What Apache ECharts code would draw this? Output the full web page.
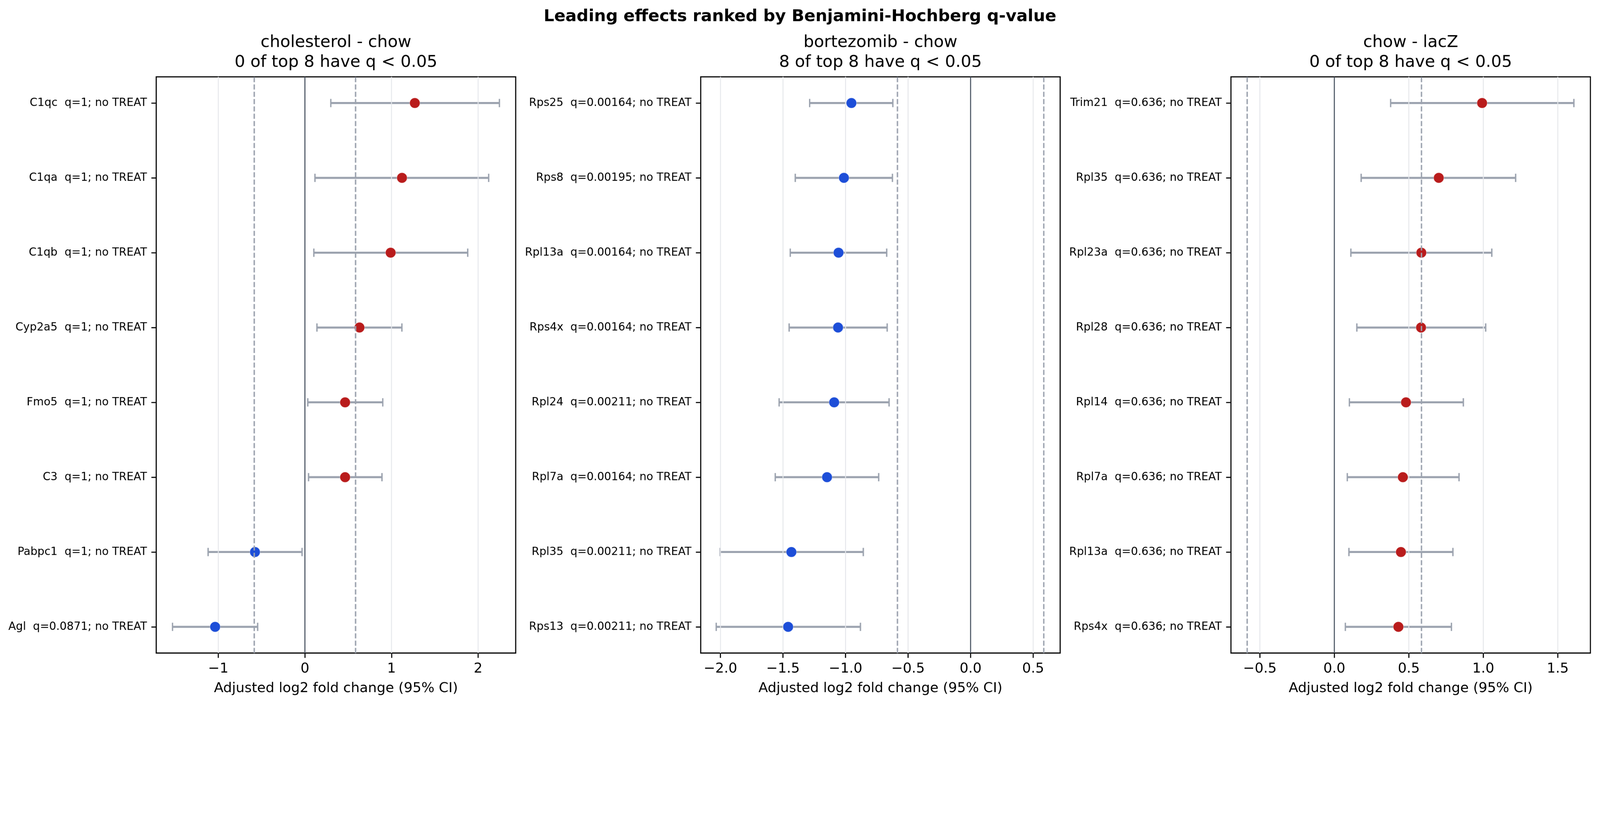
<!DOCTYPE html>
<html>
<head>
<meta charset="utf-8">
<script src="https://cdn.jsdelivr.net/npm/echarts@6/dist/echarts.min.js"></script>
<style>
html,body{margin:0;padding:0;background:#ffffff;overflow:hidden;}
#wrap{position:relative;overflow:hidden;background:#ffffff;}
#chart{position:absolute;left:0;top:0;width:4834px;height:2134px;transform-origin:0 0;}
</style>
</head>
<body>
<div id="wrap"><div id="chart"></div></div>
<script>
// ---------------- data ----------------
const suptitle = 'Leading effects ranked by Benjamini-Hochberg q-value';
const panelTitles = ['cholesterol - chow', 'bortezomib - chow', 'chow - lacZ'];
const panelSubtitles = ['0 of top 8 have q < 0.05', '8 of top 8 have q < 0.05', '0 of top 8 have q < 0.05'];
const xAxisTitle = 'Adjusted log2 fold change (95% CI)';

const labels1 = ['C1qc  q=1; no TREAT', 'C1qa  q=1; no TREAT', 'C1qb  q=1; no TREAT', 'Cyp2a5  q=1; no TREAT',
                 'Fmo5  q=1; no TREAT', 'C3  q=1; no TREAT', 'Pabpc1  q=1; no TREAT', 'Agl  q=0.0871; no TREAT'];
const est1 = [1.269, 1.121, 0.990, 0.630, 0.464, 0.464, -0.577, -1.037];
const lo1  = [0.299, 0.116, 0.103, 0.139, 0.033, 0.042, -1.118, -1.529];
const hi1  = [2.246, 2.122, 1.880, 1.120, 0.899, 0.890, -0.033, -0.546];

const labels2 = ['Rps25  q=0.00164; no TREAT', 'Rps8  q=0.00195; no TREAT', 'Rpl13a  q=0.00164; no TREAT', 'Rps4x  q=0.00164; no TREAT',
                 'Rpl24  q=0.00211; no TREAT', 'Rpl7a  q=0.00164; no TREAT', 'Rpl35  q=0.00211; no TREAT', 'Rps13  q=0.00211; no TREAT'];
const est2 = [-0.953, -1.013, -1.056, -1.060, -1.091, -1.148, -1.433, -1.459];
const lo2  = [-1.287, -1.402, -1.442, -1.451, -1.531, -1.562, -2.002, -2.034];
const hi2  = [-0.622, -0.625, -0.671, -0.667, -0.652, -0.735, -0.858, -0.881];

const labels3 = ['Trim21  q=0.636; no TREAT', 'Rpl35  q=0.636; no TREAT', 'Rpl23a  q=0.636; no TREAT', 'Rpl28  q=0.636; no TREAT',
                 'Rpl14  q=0.636; no TREAT', 'Rpl7a  q=0.636; no TREAT', 'Rpl13a  q=0.636; no TREAT', 'Rps4x  q=0.636; no TREAT'];
const est3 = [0.992, 0.701, 0.584, 0.582, 0.481, 0.460, 0.447, 0.430];
const lo3  = [0.378, 0.180, 0.111, 0.151, 0.101, 0.087, 0.098, 0.074];
const hi3  = [1.608, 1.217, 1.057, 1.016, 0.866, 0.837, 0.796, 0.786];

const xTicks1 = [-1, 0, 1, 2];
const xTicks2 = [-2, -1.5, -1, -0.5, 0, 0.5];
const xTicks3 = [-0.5, 0, 0.5, 1, 1.5];
const xDecimals = [0, 1, 1];

const thresholds = [-0.585, 0.585];
const zeroLine = [0];

// ---------------- layout / style ----------------
const W = 4834, H = 2134;
const FONT = 'DejaVu Sans';
const panels = [
  {labels: labels1, est: est1, lo: lo1, hi: hi1, ticks: xTicks1, min: -1.717, max: 2.434, left: 472},
  {labels: labels2, est: est2, lo: lo2, hi: hi2, ticks: xTicks2, min: -2.158, max: 0.716, left: 2117},
  {labels: labels3, est: est3, lo: lo3, hi: hi3, ticks: xTicks3, min: -0.694, max: 1.719, left: 3719}
];
const plotW = 1086, plotTop = 232, plotBottom = 1972;
const rowIdx = [0, 1, 2, 3, 4, 5, 6, 7];

// fit the 4834x2134 drawing to the actual viewport (handles device pixel ratio)
const wrap = document.getElementById('wrap');
const el = document.getElementById('chart');
const fit = Math.min(window.innerWidth / W, window.innerHeight / H) || 1;
wrap.style.width = (W * fit) + 'px';
wrap.style.height = (H * fit) + 'px';
el.style.transform = 'scale(' + fit + ')';
const dpr = (window.devicePixelRatio || 1) * fit;

const chart = echarts.init(el, null, {renderer: 'canvas', width: W, height: H, devicePixelRatio: Math.max(dpr, 1)});

const grids = [], xAxes = [], yAxes = [], series = [], graphics = [];

function fmtTick(v, d) {
  const s = Math.abs(v).toFixed(d);
  return (v < 0 ? '\u2212' : '') + s;
}

panels.forEach((p, i) => {
  grids.push({
    left: p.left, top: plotTop, width: plotW, height: plotBottom - plotTop,
    show: true, borderColor: '#000000', borderWidth: 3.3, backgroundColor: '#ffffff',
    containLabel: false, outerBoundsMode: 'none'
  });
  xAxes.push({
    type: 'value', gridIndex: i, min: p.min, max: p.max,
    axisLine: {show: false, onZero: false},
    axisTick: {show: true, customValues: p.ticks, length: 14.6, lineStyle: {color: '#000000', width: 3.3}},
    axisLabel: {show: true, customValues: p.ticks, margin: 27, fontSize: 41.7, fontFamily: FONT, color: '#000000',
                formatter: v => fmtTick(v, xDecimals[i])},
    splitLine: {show: false},
    name: xAxisTitle, nameLocation: 'middle', nameGap: 86,
    nameTextStyle: {fontSize: 41.7, fontFamily: FONT, color: '#000000', lineHeight: 41.7}
  });
  yAxes.push({
    type: 'value', gridIndex: i, min: -0.35, max: 7.35, inverse: true,
    axisLine: {show: false, onZero: false},
    axisTick: {show: true, customValues: rowIdx, length: 14.6, lineStyle: {color: '#000000', width: 3.3}},
    axisLabel: {show: true, customValues: rowIdx, margin: 28, fontSize: 33.3, fontFamily: FONT, color: '#000000',
                formatter: v => p.labels[Math.round(v)]},
    splitLine: {show: false}
  });

  // error bars
  series.push({
    type: 'custom', xAxisIndex: i, yAxisIndex: i, z: 2, silent: true,
    data: p.lo.map((l, k) => [l, p.hi[k], k]),
    encode: {x: [0, 1], y: 2},
    renderItem: (params, api) => {
      const yv = api.value(2);
      const a = api.coord([api.value(0), yv]);
      const b = api.coord([api.value(1), yv]);
      const cap = 12.5;
      const st = {stroke: '#9ca3af', lineWidth: 6.25, lineCap: 'butt'};
      const cs = {stroke: '#9ca3af', lineWidth: 4.2, lineCap: 'butt'};
      return {type: 'group', children: [
        {type: 'line', shape: {x1: a[0], y1: a[1], x2: b[0], y2: b[1]}, style: st},
        {type: 'line', shape: {x1: a[0], y1: a[1] - cap, x2: a[0], y2: a[1] + cap}, style: cs},
        {type: 'line', shape: {x1: b[0], y1: b[1] - cap, x2: b[0], y2: b[1] + cap}, style: cs}
      ]};
    }
  });

  // vertical grid lines (drawn above error bars, below markers)
  series.push({
    type: 'custom', xAxisIndex: i, yAxisIndex: i, z: 3, silent: true,
    data: p.ticks.map(t => [t, 0]),
    encode: {x: 0, y: 1},
    renderItem: (params, api) => {
      const x = api.coord([api.value(0), 0])[0];
      const c = params.coordSys;
      return {type: 'line', shape: {x1: x, y1: c.y + c.height, x2: x, y2: c.y},
              style: {stroke: '#e5e7eb', lineWidth: 2.7}};
    }
  });

  // point estimates
  series.push({
    type: 'scatter', xAxisIndex: i, yAxisIndex: i, z: 4, silent: true,
    data: p.est.map((e, k) => [e, k]),
    symbol: 'circle', symbolSize: 31,
    itemStyle: {
      color: prm => (prm.value[0] > 0 ? '#b91c1c' : '#1d4ed8'),
      borderColor: 'rgba(255,255,255,0.55)', borderWidth: 1.2, opacity: 1
    }
  });

  // threshold dashed lines
  series.push({
    type: 'custom', xAxisIndex: i, yAxisIndex: i, z: 5, silent: true,
    data: thresholds.map(t => [t, 0]),
    encode: {x: 0, y: 1},
    renderItem: (params, api) => {
      const x = api.coord([api.value(0), 0])[0];
      const c = params.coordSys;
      return {type: 'line', shape: {x1: x, y1: c.y + c.height, x2: x, y2: c.y},
              style: {stroke: '#9ca3af', lineWidth: 4.2, lineDash: [15.4, 6.7]}};
    }
  });

  // zero line
  series.push({
    type: 'custom', xAxisIndex: i, yAxisIndex: i, z: 5, silent: true,
    data: zeroLine.map(t => [t, 0]),
    encode: {x: 0, y: 1},
    renderItem: (params, api) => {
      const x = api.coord([api.value(0), 0])[0];
      const c = params.coordSys;
      return {type: 'line', shape: {x1: x, y1: c.y + c.height, x2: x, y2: c.y},
              style: {stroke: '#4b5563', lineWidth: 3.3}};
    }
  });

  const cx = p.left + plotW / 2;
  graphics.push({type: 'text', x: cx, y: 129, silent: true,
    style: {text: panelTitles[i], fill: '#000000', font: '50px "' + FONT + '"', textAlign: 'center', textVerticalAlign: 'middle'}});
  graphics.push({type: 'text', x: cx, y: 189, silent: true,
    style: {text: panelSubtitles[i], fill: '#000000', font: '50px "' + FONT + '"', textAlign: 'center', textVerticalAlign: 'middle'}});
});

graphics.push({type: 'text', x: W / 2, y: 51, silent: true,
  style: {text: suptitle, fill: '#000000', font: 'bold 50px "' + FONT + '"', textAlign: 'center', textVerticalAlign: 'middle'}});

chart.setOption({
  animation: false,
  backgroundColor: '#ffffff',
  textStyle: {fontFamily: FONT},
  grid: grids,
  xAxis: xAxes,
  yAxis: yAxes,
  series: series,
  graphic: {elements: graphics}
});
</script>
</body>
</html>
